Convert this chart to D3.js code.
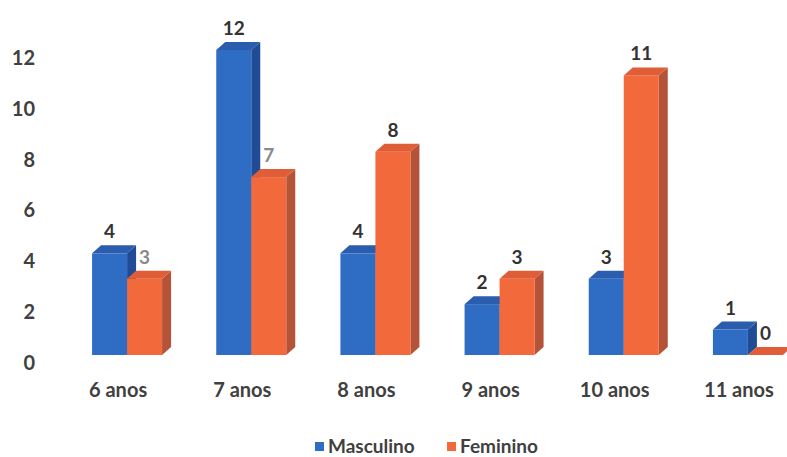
<!DOCTYPE html>
<html>
<head>
<meta charset="utf-8">
<script src="https://cdn.jsdelivr.net/npm/d3@7"></script>
<style>
  html, body { margin: 0; padding: 0; background: #fff; }
  svg { display: block; font-family: Lato, "Open Sans", sans-serif; }
</style>
</head>
<body>
<svg id="chart" width="787" height="457"></svg>
<script>
// Age groups and counts per sex
const categories = ["6 anos", "7 anos", "8 anos", "9 anos", "10 anos", "11 anos"];
const seriesNames = ["Masculino", "Feminino"];
const masculino = [4, 12, 4, 2, 3, 1];
const feminino = [3, 7, 8, 3, 11, 0];
const yTicks = [0, 2, 4, 6, 8, 10, 12];

const palette = [
  { front: "#2F6DC4", side: "#1F4C95", top: "#2A5DAE" },
  { front: "#F26A3B", side: "#B45337", top: "#DF5D37" }
];

const svg = d3.select("#chart");

// 3D extrusion offsets
const DX = 9, DY = 8;

const x = d3.scaleBand().domain(categories).range([65, 810]).paddingInner(0).paddingOuter(0);
const y = d3.scaleLinear().domain([0, 12]).range([355, 50]);
const barW = 35;

// Y axis labels (no line, no ticks)
const yAxis = d3.axisLeft(y).tickValues(yTicks).tickSize(0).tickPadding(0).tickFormat(d3.format("d"));
const gy = svg.append("g").attr("transform", "translate(35,8)").call(yAxis);
gy.select(".domain").remove();
gy.selectAll("text")
  .attr("font-size", 20).attr("font-weight", 700).attr("fill", "#404040")
  .attr("font-family", "Lato, sans-serif");

// Category labels
const gx = d3.axisBottom(x).tickSize(0).tickPadding(0);
const gxg = svg.append("g").attr("transform", "translate(-9,393)").call(gx);
gxg.select(".domain").remove();
gxg.selectAll("text")
  .attr("font-size", 20).attr("font-weight", 700).attr("fill", "#404040")
  .attr("font-family", "Lato, sans-serif").attr("dy", "0.2em");

// Build bar records
const bars = [];
categories.forEach((c, i) => {
  [masculino, feminino].forEach((vals, s) => {
    const other = s === 0 ? feminino[i] : masculino[i];
    bars.push({ cat: c, s, value: vals[i], other });
  });
});

const barsG = svg.append("g");
bars.forEach(d => {
  const cx = x(d.cat) + x.bandwidth() / 2;
  const x0 = d.s === 0 ? cx - barW : cx;
  const x1 = x0 + barW;
  const yt = y(d.value), yb = y(0);
  const col = palette[d.s];
  const g = barsG.append("g");
  // side face
  g.append("path")
    .attr("d", `M${x1},${yt}L${x1 + DX},${yt - DY}L${x1 + DX},${yb - DY}L${x1},${yb}Z`)
    .attr("fill", col.side);
  // front face
  if (yb > yt) {
    g.append("rect").attr("x", x0).attr("y", yt).attr("width", barW).attr("height", yb - yt)
      .attr("fill", col.front);
  }
  // top face
  g.append("path")
    .attr("d", `M${x0},${yt}L${x0 + DX},${yt - DY}L${x1 + DX},${yt - DY}L${x1},${yt}Z`)
    .attr("fill", col.top);
});

// Value labels
svg.append("g").selectAll("text").data(bars).join("text")
  .attr("x", d => {
    const cx = x(d.cat) + x.bandwidth() / 2;
    return (d.s === 0 ? cx - barW : cx) + barW / 2;
  })
  .attr("y", d => y(d.value) - 15)
  .attr("text-anchor", "middle")
  .attr("font-size", 19).attr("font-weight", 700)
  .attr("fill", d => (d.s === 1 && d.other > d.value && d.value > 0) ? "#8a8a8a" : "#333")
  .text(d => d.value);

// Legend
const legend = svg.append("g").attr("transform", "translate(315,446)");
const items = legend.selectAll("g").data(seriesNames).join("g")
  .attr("transform", (d, i) => `translate(${i * 132},0)`);
items.append("rect").attr("x", 0).attr("y", -4).attr("width", 9).attr("height", 9)
  .attr("fill", (d, i) => palette[i].front);
items.append("text").attr("x", 13).attr("y", 0).attr("dy", "0.35em")
  .attr("font-size", 19).attr("font-weight", 700).attr("fill", "#404040")
  .text(d => d);
</script>
</body>
</html>
